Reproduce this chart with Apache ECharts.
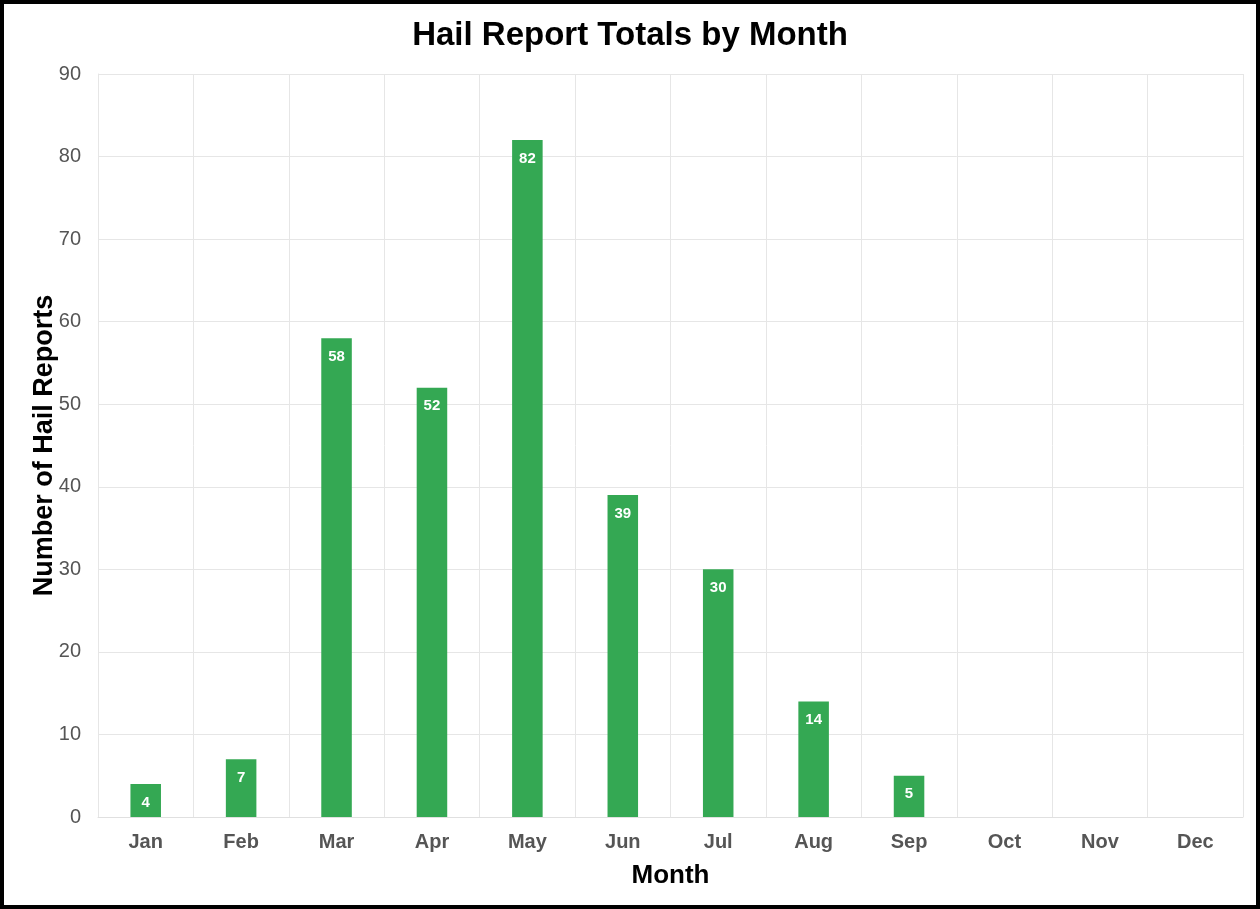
<!DOCTYPE html>
<html>
<head>
<meta charset="utf-8">
<script src="https://cdn.jsdelivr.net/npm/echarts@6/dist/echarts.min.js"></script>
<style>
  html, body { margin: 0; padding: 0; background: #fff; }
  #main { width: 1260px; height: 909px; }
</style>
</head>
<body>
<div id="main"></div>
<script>
  // data
  var months = ['Jan', 'Feb', 'Mar', 'Apr', 'May', 'Jun', 'Jul', 'Aug', 'Sep', 'Oct', 'Nov', 'Dec'];
  var hailReports = [4, 7, 58, 52, 82, 39, 30, 14, 5, 0, 0, 0];

  var myChart = echarts.init(document.getElementById('main'));

  var option = {
    animation: false,
    backgroundColor: '#fff',
    textStyle: { fontFamily: 'Liberation Sans, Arial, sans-serif' },
    title: {
      text: 'Hail Report Totals by Month',
      left: 'center',
      top: 14,
      textStyle: { fontSize: 33, fontWeight: 'bold', color: '#000' }
    },
    // outer black frame
    graphic: [{
      type: 'rect',
      shape: { x: 2, y: 2, width: 1256, height: 905 },
      style: { fill: 'none', stroke: '#000', lineWidth: 4 },
      silent: true
    }],
    grid: { left: 98, right: 17, top: 74, bottom: 92 },
    xAxis: {
      type: 'category',
      data: months,
      name: 'Month',
      nameLocation: 'middle',
      nameGap: 46,
      nameMoveOverlap: false,
      nameTextStyle: { fontSize: 26, fontWeight: 'bold', color: '#000' },
      axisLine: { lineStyle: { color: '#e0e0e0', width: 1 } },
      axisTick: { show: false },
      axisLabel: { fontSize: 20, fontWeight: 'bold', color: '#555', margin: 15 },
      splitLine: { show: true, lineStyle: { color: '#e6e6e6' } }
    },
    yAxis: {
      type: 'value',
      min: 0,
      max: 90,
      interval: 10,
      name: 'Number of Hail Reports',
      nameLocation: 'middle',
      nameGap: 40,
      nameMoveOverlap: false,
      nameTextStyle: { fontSize: 27, fontWeight: 'bold', color: '#000' },
      axisLine: { show: true, lineStyle: { color: '#e6e6e6' } },
      axisTick: { show: false },
      axisLabel: { fontSize: 20, color: '#555', margin: 17 },
      splitLine: { lineStyle: { color: '#e6e6e6' } }
    },
    series: [{
      name: 'Hail Reports',
      type: 'bar',
      data: hailReports,
      barWidth: '32%',
      itemStyle: { color: '#34a853' },
      label: {
        show: true,
        position: 'insideTop',
        distance: 11,
        color: '#fff',
        fontSize: 15,
        fontWeight: 'bold',
        formatter: function (p) { return p.value > 0 ? p.value : ''; }
      }
    }]
  };

  myChart.setOption(option);
</script>
</body>
</html>
